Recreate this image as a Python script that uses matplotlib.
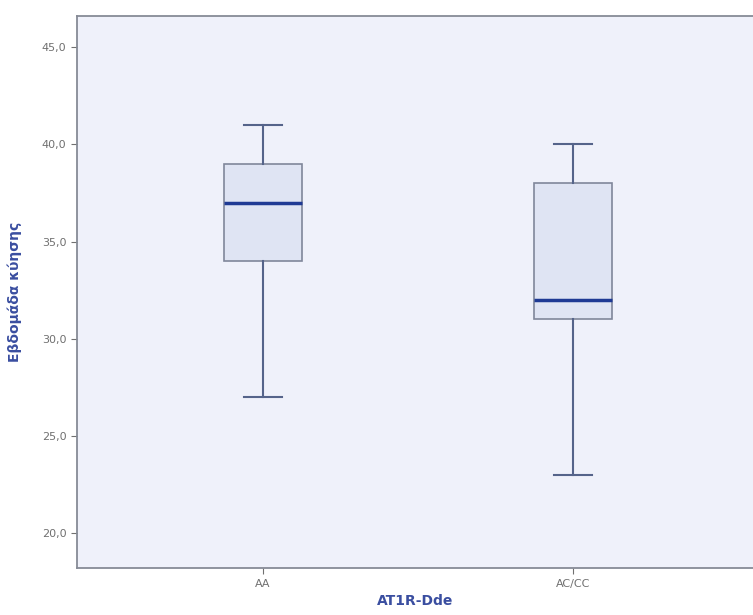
import matplotlib
matplotlib.use('Agg')
import matplotlib.pyplot as plt

# valeurs
groupes = ['AA', 'AC/CC']
whisker_bas = [27, 23]
q1 = [34, 31]
mediane = [37, 32]
q3 = [39, 38]
whisker_haut = [41, 40]
yticks = [20, 25, 30, 35, 40, 45]

stats = []
for k in range(len(groupes)):
    stats.append({'label': groupes[k], 'whislo': whisker_bas[k], 'q1': q1[k],
                  'med': mediane[k], 'q3': q3[k], 'whishi': whisker_haut[k], 'fliers': []})

fig = plt.figure(figsize=(7.53, 6.15), dpi=100)
ax = fig.add_axes([0.102, 0.076, 0.898, 0.898])
ax.set_facecolor('#eff1fa')

ax.bxp(stats, positions=[0, 1], widths=0.25, patch_artist=True,
       boxprops=dict(facecolor='#dfe4f3', edgecolor='#80879a', lw=1.2),
       medianprops=dict(color='#1f3a94', lw=2.5),
       whiskerprops=dict(color='#55648a', lw=1.5),
       capprops=dict(color='#55648a', lw=1.5))

ax.set_xlim(-0.6, 1.58)
ax.set_ylim(18.2, 46.6)
ax.set_yticks(yticks)
ax.set_yticklabels([f'{v:.1f}'.replace('.', ',') for v in yticks])
ax.tick_params(colors='#707070', labelsize=8, length=4)
ax.spines['right'].set_visible(False)
for s in ['left', 'bottom', 'top']:
    ax.spines[s].set_color('#868b96')
    ax.spines[s].set_linewidth(1.3)

ax.set_xlabel('AT1R-Dde', color='#3a4ea0', fontweight='bold', fontsize=10)
ax.set_ylabel('Εβδομάδα κύησης', color='#3a4ea0', fontweight='bold', fontsize=10, labelpad=14)

fig.savefig('out.png', dpi=100)
